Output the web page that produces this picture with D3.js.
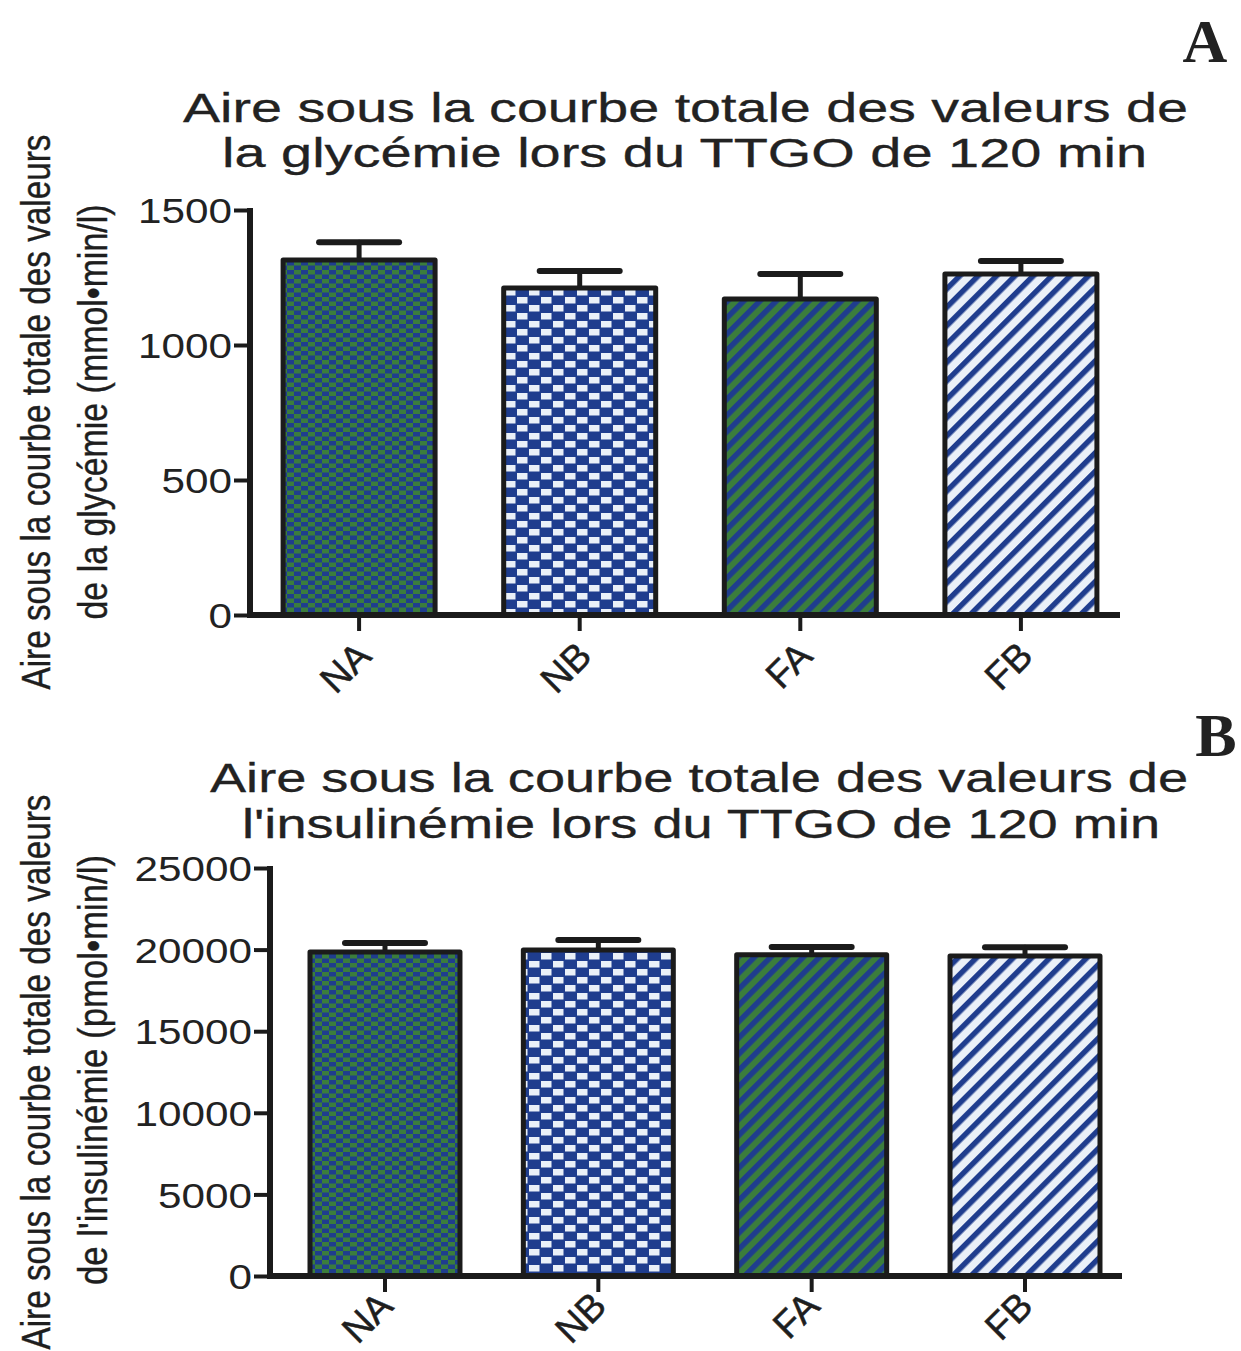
<!DOCTYPE html>
<html>
<head>
<meta charset="utf-8">
<script src="https://cdn.jsdelivr.net/npm/d3@7"></script>
<style>
  body { margin: 0; background: #fff; }
  svg { display: block; }
</style>
</head>
<body>
<svg width="1241" height="1351"></svg>
<script>
// groups and values
const groups = ["NA", "NB", "FA", "FB"];
const glyMean = [1315, 1211, 1170, 1263];
const glySem = [66, 63, 93, 48];
const glyTicks = [0, 500, 1000, 1500];
const insMean = [19850, 19980, 19680, 19610];
const insSem = [560, 610, 480, 540];
const insTicks = [0, 5000, 10000, 15000, 20000, 25000];

const GREEN = "#3b7d3c", BLUE = "#1f3d8e", LIGHT = "#eaf0f8", INK = "#1b1b1b";
const SANS = "'Liberation Sans', Arial, Helvetica, sans-serif";

const svg = d3.select("svg");
const defs = svg.append("defs");

// damier vert / bleu (NA)
const p1 = defs.append("pattern").attr("id", "chkGreen")
    .attr("patternUnits", "userSpaceOnUse").attr("width", 14).attr("height", 9);
p1.append("rect").attr("width", 14).attr("height", 9).attr("fill", BLUE);
p1.append("rect").attr("x", 0).attr("y", 0).attr("width", 7).attr("height", 4.5).attr("fill", GREEN);
p1.append("rect").attr("x", 7).attr("y", 4.5).attr("width", 7).attr("height", 4.5).attr("fill", GREEN);

// damier bleu / blanc (NB)
const p2 = defs.append("pattern").attr("id", "chkBlue")
    .attr("patternUnits", "userSpaceOnUse").attr("width", 24).attr("height", 16);
p2.append("rect").attr("width", 24).attr("height", 16).attr("fill", BLUE);
p2.append("rect").attr("x", 1).attr("y", 1).attr("width", 10.5).attr("height", 6.5).attr("fill", LIGHT);
p2.append("rect").attr("x", 13).attr("y", 9).attr("width", 10.5).attr("height", 6.5).attr("fill", LIGHT);

// hachures (FA, FB)
function stripes(id, bg, fg, period, w) {
    const p = defs.append("pattern").attr("id", id)
        .attr("patternUnits", "userSpaceOnUse").attr("width", period).attr("height", period)
        .attr("patternTransform", "rotate(45)");
    p.append("rect").attr("width", period).attr("height", period).attr("fill", bg);
    p.append("rect").attr("width", w).attr("height", period).attr("fill", fg);
}
stripes("strGreen", GREEN, BLUE, 11.5, 5.5);
stripes("strBlue", LIGHT, BLUE, 13, 5.5);

const fills = ["url(#chkGreen)", "url(#chkBlue)", "url(#strGreen)", "url(#strBlue)"];

function drawPanel(cfg) {
    const g = svg.append("g");
    const x = d3.scaleBand().domain(groups).range(cfg.xRange)
        .paddingInner(cfg.padIn).paddingOuter(cfg.padOut);
    const y = d3.scaleLinear().domain([0, d3.max(cfg.ticks)]).range(cfg.yRange);
    const data = groups.map((k, i) => ({ k, m: cfg.mean[i], e: cfg.sem[i], f: fills[i] }));

    // barres d'erreur (au-dessus)
    const err = g.append("g").attr("stroke", INK).attr("stroke-linecap", "round");
    err.selectAll("line.v").data(data).enter().append("line")
        .attr("x1", d => x(d.k) + x.bandwidth() / 2).attr("x2", d => x(d.k) + x.bandwidth() / 2)
        .attr("y1", d => y(d.m)).attr("y2", d => y(d.m + d.e))
        .attr("stroke-width", 5);
    err.selectAll("line.c").data(data).enter().append("line")
        .attr("x1", d => x(d.k) + x.bandwidth() / 2 - 40).attr("x2", d => x(d.k) + x.bandwidth() / 2 + 40)
        .attr("y1", d => y(d.m + d.e)).attr("y2", d => y(d.m + d.e))
        .attr("stroke-width", 6);

    g.selectAll("rect.bar").data(data).enter().append("rect")
        .attr("x", d => x(d.k)).attr("width", x.bandwidth())
        .attr("y", d => y(d.m)).attr("height", d => y(0) - y(d.m))
        .attr("fill", d => d.f).attr("stroke", INK).attr("stroke-width", 5)
        .attr("stroke-linejoin", "round");

    // axe Y
    const ya = g.append("g").attr("transform", `translate(${cfg.xRange[0]},0)`)
        .call(d3.axisLeft(y).tickValues(cfg.ticks).tickSize(16).tickPadding(2).tickFormat(d3.format("d")));
    ya.select(".domain").remove();
    ya.selectAll(".tick line").attr("stroke", INK).attr("stroke-width", 4);
    ya.selectAll(".tick text").attr("dy", "0.36em")
        .attr("textLength", d => String(d).length * 23.5).attr("lengthAdjust", "spacingAndGlyphs")
        .style("font-family", SANS).style("font-size", "35px").style("fill", "#222");
    g.append("line").attr("x1", cfg.xRange[0]).attr("x2", cfg.xRange[0])
        .attr("y1", cfg.yRange[1] - 2).attr("y2", cfg.yRange[0] + 2)
        .attr("stroke", INK).attr("stroke-width", 6);

    // axe X
    const xa = g.append("g").attr("transform", `translate(0,${cfg.yRange[0]})`)
        .call(d3.axisBottom(x).tickSize(16).tickFormat(""));
    xa.select(".domain").remove();
    xa.selectAll(".tick line").attr("stroke", INK).attr("stroke-width", 4);
    g.append("line").attr("x1", cfg.xRange[0] - 3).attr("x2", cfg.axisEnd)
        .attr("y1", cfg.yRange[0]).attr("y2", cfg.yRange[0])
        .attr("stroke", INK).attr("stroke-width", 6);
    g.selectAll("text.xl").data(groups).enter().append("text")
        .attr("text-anchor", "end")
        .style("font-family", SANS).style("font-size", "38px").style("fill", "#1e1e1e")
        .attr("stroke", "#1e1e1e").attr("stroke-width", 0.5)
        .attr("transform", d => `translate(${x(d) + x.bandwidth() / 2 + cfg.labDx},${cfg.labY}) rotate(-45)`)
        .text(d => d);

    // titre
    cfg.title.forEach(t => {
        g.append("text").attr("x", t.x0).attr("y", t.y)
            .style("font-family", SANS).style("font-size", "40px").style("fill", "#222")
            .attr("textLength", t.x1 - t.x0).attr("lengthAdjust", "spacingAndGlyphs")
            .attr("stroke", "#222").attr("stroke-width", 0.3)
            .text(t.s);
    });

    // titre axe Y
    cfg.ylab.forEach(t => {
        g.append("text").attr("text-anchor", "middle")
            .style("font-family", SANS).style("font-size", "40px").style("fill", "#1e1e1e")
            .attr("stroke", "#1e1e1e").attr("stroke-width", 0.4)
            .attr("transform", `translate(${t.x},${t.cy}) rotate(-90)`)
            .attr("textLength", t.len).attr("lengthAdjust", "spacingAndGlyphs")
            .text(t.s);
    });

    g.append("text").attr("x", cfg.letter.x).attr("y", cfg.letter.y)
        .style("font-family", "'Liberation Serif', 'Times New Roman', serif")
        .style("font-weight", "bold").style("font-size", "62px").style("fill", "#222")
        .attr("text-anchor", "middle")
        .text(cfg.letter.s);
}

drawPanel({
    mean: glyMean, sem: glySem, ticks: glyTicks,
    xRange: [250, 1130], padIn: 0.311, padOut: 0.15, axisEnd: 1120,
    yRange: [615, 210], labDx: 14, labY: 658,
    title: [
        { s: "Aire sous la courbe totale des valeurs de", x0: 183, x1: 1188, y: 122 },
        { s: "la glycémie lors du TTGO de 120 min", x0: 222, x1: 1147, y: 167 }
    ],
    ylab: [
        { s: "Aire sous la courbe totale des valeurs", x: 50, cy: 412, len: 555 },
        { s: "de la glycémie (mmol•min/l)", x: 107, cy: 412, len: 415 }
    ],
    letter: { s: "A", x: 1205, y: 62 }
});

drawPanel({
    mean: insMean, sem: insSem, ticks: insTicks,
    xRange: [270, 1140], padIn: 0.297, padOut: 0.1875, axisEnd: 1122,
    yRange: [1276, 868], labDx: 10, labY: 1308,
    title: [
        { s: "Aire sous la courbe totale des valeurs de", x0: 210, x1: 1188, y: 792 },
        { s: "l'insulinémie lors du TTGO de 120 min", x0: 242, x1: 1160, y: 838 }
    ],
    ylab: [
        { s: "Aire sous la courbe totale des valeurs", x: 50, cy: 1072, len: 555 },
        { s: "de l'insulinémie (pmol•min/l)", x: 107, cy: 1070, len: 430 }
    ],
    letter: { s: "B", x: 1216, y: 756 }
});
</script>
</body>
</html>
